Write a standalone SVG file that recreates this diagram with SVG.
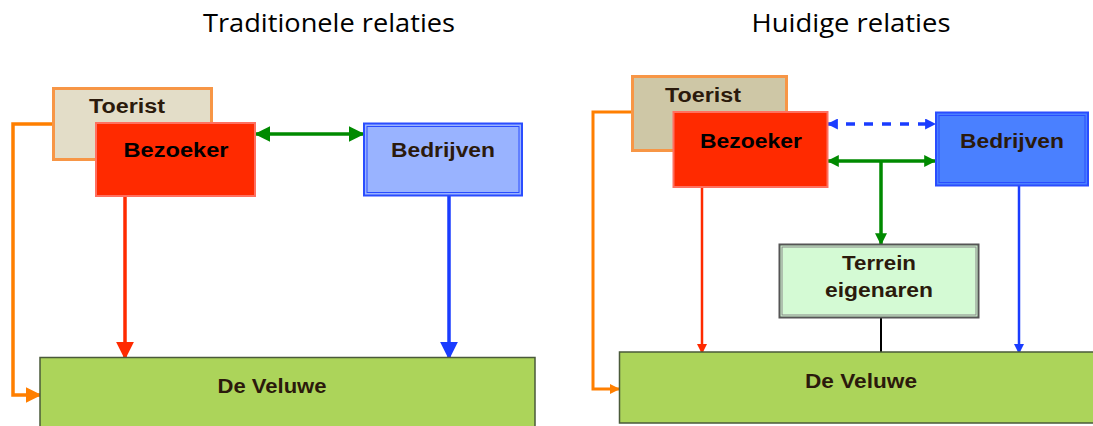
<svg xmlns="http://www.w3.org/2000/svg" width="1093" height="426" viewBox="0 0 1093 426">
<defs>
<style>
.title{font-family:"Open Sans","Liberation Sans",sans-serif;font-size:26px;fill:#000;text-anchor:middle}
.lbl{font-family:"Liberation Sans",Arial,sans-serif;font-weight:bold;font-size:20px;fill:#2b1a0c;text-anchor:middle}
.blk{fill:#000}
.ln{fill:none}
</style>
<marker id="aGreenL" viewBox="0 0 10 10" refX="9" refY="5" markerUnits="userSpaceOnUse" markerWidth="16" markerHeight="16" orient="auto-start-reverse"><path d="M0,0 L10,5 L0,10 z" fill="#008a00"/></marker>
<marker id="aGreenS" viewBox="0 0 10 10" refX="9" refY="5" markerUnits="userSpaceOnUse" markerWidth="12" markerHeight="12" orient="auto-start-reverse"><path d="M0,0 L10,5 L0,10 z" fill="#008a00"/></marker>
<marker id="aBlueS" viewBox="0 0 10 10" refX="9" refY="5" markerUnits="userSpaceOnUse" markerWidth="11" markerHeight="11" orient="auto-start-reverse"><path d="M0,0 L10,5 L0,10 z" fill="#1a3cff"/></marker>
<marker id="aRed" viewBox="0 0 10 10" refX="9" refY="5" markerUnits="userSpaceOnUse" markerWidth="18" markerHeight="18" orient="auto"><path d="M0,0 L10,5 L0,10 z" fill="#ff2a00"/></marker>
<marker id="aRedS" viewBox="0 0 10 10" refX="9" refY="5" markerUnits="userSpaceOnUse" markerWidth="10" markerHeight="10" orient="auto"><path d="M0,0 L10,5 L0,10 z" fill="#ff2a00"/></marker>
<marker id="aBlue" viewBox="0 0 10 10" refX="9" refY="5" markerUnits="userSpaceOnUse" markerWidth="18" markerHeight="18" orient="auto"><path d="M0,0 L10,5 L0,10 z" fill="#1a3cff"/></marker>
<marker id="aBlueM" viewBox="0 0 10 10" refX="9" refY="5" markerUnits="userSpaceOnUse" markerWidth="10" markerHeight="10" orient="auto"><path d="M0,0 L10,5 L0,10 z" fill="#1a3cff"/></marker>
<marker id="aOrange" viewBox="0 0 10 10" refX="9" refY="5" markerUnits="userSpaceOnUse" markerWidth="16" markerHeight="16" orient="auto"><path d="M0,0 L10,5 L0,10 z" fill="#ff7f00"/></marker>
<marker id="aOrangeS" viewBox="0 0 10 10" refX="9" refY="5" markerUnits="userSpaceOnUse" markerWidth="10" markerHeight="10" orient="auto"><path d="M0,0 L10,5 L0,10 z" fill="#ff7f00"/></marker>
</defs>
<rect width="1093" height="426" fill="#fff"/>

<text class="title" x="329" y="32" textLength="252" lengthAdjust="spacingAndGlyphs">Traditionele relaties</text>
<text class="title" x="851" y="32" textLength="199" lengthAdjust="spacingAndGlyphs">Huidige relaties</text>

<g id="connectors">
<!-- left panel -->
<polyline class="ln" points="52,124 13,124 13,395 40,395" stroke="#ff7f00" stroke-width="3.5" marker-end="url(#aOrange)"/>
<line x1="125" y1="196" x2="125" y2="358" stroke="#ff2a00" stroke-width="3.5" marker-end="url(#aRed)"/>
<line x1="449" y1="196" x2="449" y2="358" stroke="#1a3cff" stroke-width="3.5" marker-end="url(#aBlue)"/>
<line x1="256" y1="134" x2="363" y2="134" stroke="#008a00" stroke-width="3.5" marker-start="url(#aGreenL)" marker-end="url(#aGreenL)"/>
<!-- right panel -->
<polyline class="ln" points="632,112 593,112 593,389 619,389" stroke="#ff7f00" stroke-width="3" marker-end="url(#aOrangeS)"/>
<line x1="702" y1="187" x2="702" y2="353" stroke="#ff2a00" stroke-width="2.5" marker-end="url(#aRedS)"/>
<line x1="1019" y1="186" x2="1019" y2="353" stroke="#1a3cff" stroke-width="2.5" marker-end="url(#aBlueM)"/>
<line x1="828" y1="124" x2="935" y2="124" stroke="#1a3cff" stroke-width="3.5" stroke-dasharray="9,9" marker-start="url(#aBlueS)" marker-end="url(#aBlueS)"/>
<line x1="828" y1="161" x2="935" y2="161" stroke="#008a00" stroke-width="3.5" marker-start="url(#aGreenS)" marker-end="url(#aGreenS)"/>
<line x1="881" y1="161" x2="881" y2="244" stroke="#008a00" stroke-width="3.5" marker-end="url(#aGreenS)"/>
<line x1="881" y1="318" x2="881" y2="352" stroke="#000" stroke-width="2"/>
</g>

<!-- left panel nodes -->
<g id="toerist-left">
<rect x="53.5" y="88.5" width="158" height="71" fill="#e3ddc8" stroke="#f79646" stroke-width="3"/>
<text class="lbl" x="127" y="113" textLength="76" lengthAdjust="spacingAndGlyphs">Toerist</text>
</g>
<g id="bezoeker-left">
<rect x="96" y="123" width="159" height="73" fill="#ff2a00" stroke="#ff7060" stroke-width="2"/>
<text class="lbl blk" x="176" y="157" textLength="105" lengthAdjust="spacingAndGlyphs">Bezoeker</text>
</g>
<g id="bedrijven-left">
<rect x="364" y="123.5" width="158" height="72" fill="#99b3ff" stroke="#2a4dff" stroke-width="2"/>
<rect x="367" y="126.5" width="152" height="66" fill="none" stroke="#2a4dff" stroke-width="1"/>
<text class="lbl" x="443" y="157" textLength="104" lengthAdjust="spacingAndGlyphs">Bedrijven</text>
</g>
<g id="veluwe-left">
<rect x="40" y="357.5" width="495" height="72" fill="#acd45a" stroke="#4a5a3a" stroke-width="1.5"/>
<text class="lbl" x="272" y="393" textLength="109" lengthAdjust="spacingAndGlyphs">De Veluwe</text>
</g>

<!-- right panel nodes -->
<g id="toerist-right">
<rect x="632.5" y="76.5" width="154" height="74" fill="#cec7a6" stroke="#f79646" stroke-width="3"/>
<text class="lbl" x="703" y="102" textLength="76" lengthAdjust="spacingAndGlyphs">Toerist</text>
</g>
<g id="bezoeker-right">
<rect x="673.5" y="112" width="154" height="75" fill="#ff2a00" stroke="#ff7060" stroke-width="2"/>
<text class="lbl blk" x="751" y="148" textLength="102" lengthAdjust="spacingAndGlyphs">Bezoeker</text>
</g>
<g id="bedrijven-right">
<rect x="936" y="112.5" width="152" height="73" fill="#4a80ff" stroke="#2a4dff" stroke-width="2"/>
<rect x="939" y="115.5" width="146" height="67" fill="none" stroke="#2a4dff" stroke-width="1"/>
<text class="lbl" x="1012" y="148" textLength="104" lengthAdjust="spacingAndGlyphs">Bedrijven</text>
</g>
<g id="terrein">
<rect x="779.5" y="244.5" width="199" height="73" fill="#d4fad4" stroke="#555" stroke-width="2"/>
<rect x="782" y="247" width="194" height="68" fill="none" stroke="#888" stroke-width="1"/>
<text class="lbl" x="879" y="270" textLength="74" lengthAdjust="spacingAndGlyphs">Terrein</text>
<text class="lbl" x="879" y="297" textLength="108" lengthAdjust="spacingAndGlyphs">eigenaren</text>
</g>
<g id="veluwe-right">
<rect x="619.5" y="352" width="480" height="71" fill="#acd45a" stroke="#4a5a3a" stroke-width="1.5"/>
<text class="lbl" x="861" y="388" textLength="112" lengthAdjust="spacingAndGlyphs">De Veluwe</text>
</g>
</svg>
